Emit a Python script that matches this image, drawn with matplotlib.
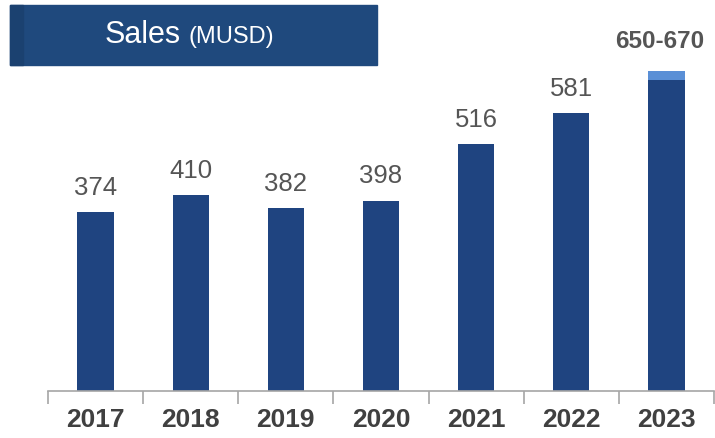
import matplotlib.pyplot as plt
from matplotlib.patches import Rectangle

years = ["2017", "2018", "2019", "2020", "2021", "2022", "2023"]
sales = [374, 410, 382, 398, 516, 581, 650]
labels = ["374", "410", "382", "398", "516", "581", "650-670"]
range_top = 670  # upper end of the 2023 guidance

W, H = 715, 438
fig = plt.figure(figsize=(W / 100, H / 100), dpi=100)
ax = fig.add_axes([48 / W, 47 / H, 666 / W, 391 / H])

navy = "#1f4480"
x = range(len(years))
ax.bar(x, sales, width=0.38, color=navy, zorder=2)
# lighter cap for the guidance range of the last year
ax.bar(len(years) - 1, range_top - sales[-1], bottom=sales[-1],
       width=0.38, color="#5a8fd6", zorder=2)

for i, lab in enumerate(labels):
    last = i == len(years) - 1
    top = range_top if last else sales[i]
    ax.annotate(lab, (i, top), xytext=(-5 if last else 0, 13 if last else 9),
                textcoords="offset points", ha="center", va="bottom",
                fontsize=18.5 if not last else 17.5, color="#555555",
                fontweight="bold" if last else "normal",
                family=["Liberation Sans", "DejaVu Sans"])

ax.set_xlim(-0.5, 6.5)
ax.set_ylim(0, 818)
ax.set_yticks([])
for s in ["left", "right", "top"]:
    ax.spines[s].set_visible(False)
ax.spines["bottom"].set_color("#a6a6a6")
ax.spines["bottom"].set_linewidth(1.2)

ax.set_xticks([i - 0.5 for i in range(len(years) + 1)], minor=True)
ax.tick_params(axis="x", which="minor", length=9, color="#a6a6a6", width=1.2)
ax.set_xticks(list(x))
ax.set_xticklabels(years, fontsize=19, fontweight="bold", color="#404040",
                   family=["Liberation Sans", "DejaVu Sans"])
ax.tick_params(axis="x", which="major", length=0, pad=12)

# title banner
fig.patches.append(Rectangle((10 / W, 1 - 65 / H), 367 / W, 60 / H,
                             transform=fig.transFigure, color="#1f497d", zorder=0))
fig.patches.append(Rectangle((10 / W, 1 - 65 / H), 13 / W, 60 / H,
                             transform=fig.transFigure, color="#1b4170", zorder=0))
fig.text(181 / W, 1 - 35 / H, "Sales", fontsize=22, color="white",
         ha="right", va="center", family=["Liberation Sans", "DejaVu Sans"])
fig.text(189 / W, 1 - 37 / H, "(MUSD)", fontsize=17, color="white",
         ha="left", va="center", family=["Liberation Sans", "DejaVu Sans"])

fig.savefig("out.png", dpi=100)
